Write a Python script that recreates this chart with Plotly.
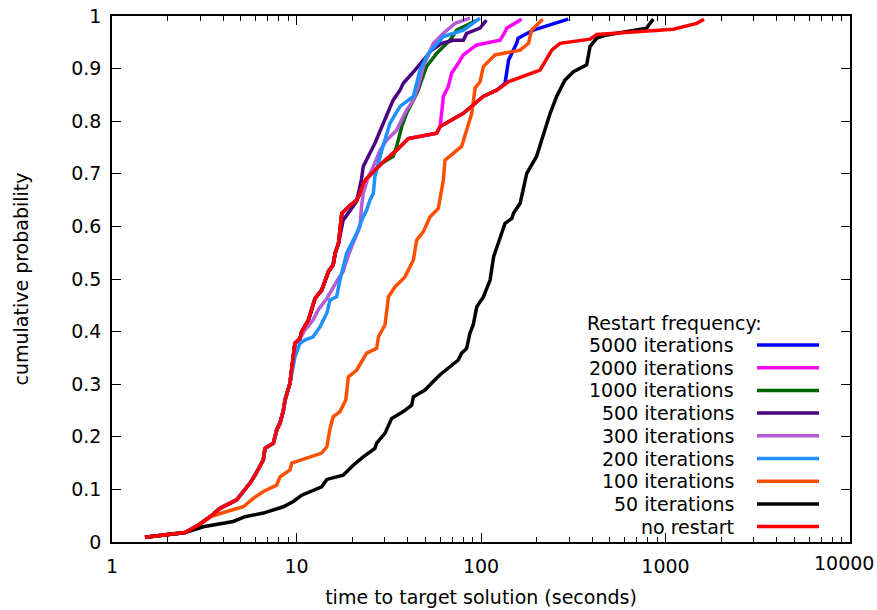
import plotly.graph_objects as go

# ---- data ----
# no restart
red_t = [1.51, 2.49, 2.93, 3.40, 3.85, 4.19, 4.74, 5.15, 5.60, 5.96, 6.34, 6.61, 6.75, 7.49, 7.81, 8.14,
         8.49, 8.67, 9.22, 9.81, 10.45, 10.67, 11.6, 12.6, 13.7, 14.3, 14.9, 15.8, 16.2, 16.9, 17.6, 19.1,
         21.2, 22.1, 23.0, 24.0, 29.0, 34.9, 40.4, 57.5, 60.0, 80.2, 102.8, 121.6, 140.6, 209, 222, 242,
         268, 390, 424, 1102, 1476, 1617]
red_p = [0.009, 0.018, 0.032, 0.048, 0.064, 0.070, 0.080, 0.096, 0.112, 0.127, 0.143, 0.156, 0.178, 0.188,
         0.213, 0.226, 0.250, 0.270, 0.302, 0.378, 0.387, 0.400, 0.422, 0.463, 0.479, 0.498, 0.514, 0.527,
         0.549, 0.568, 0.625, 0.637, 0.650, 0.663, 0.682, 0.691, 0.720, 0.745, 0.767, 0.777, 0.790, 0.815,
         0.847, 0.859, 0.875, 0.897, 0.913, 0.935, 0.948, 0.956, 0.965, 0.975, 0.986, 0.994]

# restart curves share the no-restart path up to the point where they separate
t_5000 = red_t[:44] + [135, 141, 156, 159, 177, 192, 297]
p_5000 = red_p[:44] + [0.872, 0.916, 0.948, 0.958, 0.967, 0.973, 0.994]

t_2000 = red_t[:40] + [60.0, 61.2, 62.5, 66.5, 69.3, 75.3, 80.2, 94.8, 127, 135, 138, 166]
p_2000 = red_p[:40] + [0.790, 0.815, 0.847, 0.866, 0.891, 0.910, 0.926, 0.945, 0.954, 0.970, 0.977, 0.994]

t_1000 = red_t[:37] + [33.4, 34.9, 37.2, 39.5, 43.0, 45.7, 47.0, 50.7, 57.5, 67.9, 73.8, 87.1, 94.8]
p_1000 = red_p[:37] + [0.733, 0.752, 0.790, 0.815, 0.840, 0.859, 0.872, 0.904, 0.929, 0.954, 0.973, 0.986, 0.992]

t_500 = red_t[:30] + [17.9, 19.9, 21.2, 22.5, 23.0, 26.6, 27.8, 31.5, 33.4, 36.4, 37.9, 43.9, 54.0, 61.2,
                      70.8, 80.2, 83.6, 98.8, 107]
p_500 = red_p[:30] + [0.612, 0.634, 0.648, 0.690, 0.714, 0.758, 0.774, 0.821, 0.840, 0.859, 0.872, 0.897,
                      0.935, 0.948, 0.954, 0.954, 0.967, 0.977, 0.992]

t_300 = red_t[:21] + [11.1, 12.3, 13.1, 14.6, 15.5, 16.9, 17.9, 18.7, 19.9, 21.2, 22.1, 22.5, 23.0, 24.5,
                      25.6, 28.4, 30.8, 34.9, 39.5, 43.0, 45.7, 48.7, 55.2, 62.5, 72.3, 87.1]
p_300 = red_p[:21] + [0.403, 0.422, 0.441, 0.463, 0.479, 0.501, 0.514, 0.536, 0.561, 0.587, 0.600, 0.637,
                      0.663, 0.695, 0.707, 0.745, 0.764, 0.783, 0.821, 0.840, 0.866, 0.904, 0.948, 0.967,
                      0.986, 0.996]

t_200 = red_t[:19] + [9.5, 9.81, 10.45, 11.1, 12.3, 13.4, 14.6, 15.2, 16.5, 17.2, 18.7, 21.2, 23.0, 24.0,
                      25.0, 26.1, 26.6, 29.0, 32.1, 36.4, 43.0, 46.7, 51.9, 62.5, 80.2, 98.8]
p_200 = red_p[:19] + [0.330, 0.352, 0.378, 0.384, 0.390, 0.409, 0.435, 0.460, 0.466, 0.498, 0.549, 0.587,
                      0.618, 0.631, 0.650, 0.663, 0.695, 0.745, 0.796, 0.828, 0.847, 0.897, 0.929, 0.961,
                      0.973, 0.996]

t_100 = red_t[:4] + [4.19, 5.15, 5.83, 6.61, 7.81, 8.14, 9.22, 9.42, 13.7, 14.6, 15.2, 15.8, 17.2, 18.5,
                     19.1, 21.2, 24.0, 27.2, 27.8, 30.2, 31.5, 34.2, 38.7, 43.0, 44.8, 48.7, 52.9, 58.7,
                     62.5, 63.8, 78.5, 83.6, 89.1, 92.9, 98.8, 103, 119, 163, 181, 188, 216]
p_100 = red_p[:4] + [0.058, 0.067, 0.083, 0.096, 0.108, 0.124, 0.137, 0.150, 0.169, 0.181, 0.216, 0.238,
                     0.248, 0.270, 0.314, 0.327, 0.359, 0.368, 0.390, 0.413, 0.466, 0.485, 0.504, 0.536,
                     0.574, 0.590, 0.618, 0.634, 0.688, 0.726, 0.752, 0.783, 0.815, 0.863, 0.875, 0.904,
                     0.926, 0.935, 0.948, 0.973, 0.994]

t_50 = red_t[:2] + [3.12, 4.54, 5.26, 6.61, 8.49, 9.61, 10.67, 13.7, 14.6, 17.9, 20.3, 23.0, 26.6, 27.2,
                    30.2, 32.8, 37.9, 42.1, 43.0, 49.7, 55.1, 60.0, 75.3, 78.5, 83.6, 87.1, 90.8, 94.8,
                    103, 112, 117, 127, 135, 147, 150, 163, 177, 200, 218, 237, 257, 285, 317, 374, 390,
                    424, 480, 791, 824, 859]
p_50 = red_p[:2] + [0.029, 0.039, 0.048, 0.055, 0.067, 0.077, 0.089, 0.105, 0.119, 0.127, 0.146, 0.162,
                    0.178, 0.188, 0.207, 0.235, 0.248, 0.260, 0.276, 0.289, 0.305, 0.318, 0.346, 0.359,
                    0.368, 0.397, 0.413, 0.447, 0.466, 0.498, 0.542, 0.577, 0.606, 0.615, 0.625, 0.644,
                    0.701, 0.733, 0.777, 0.815, 0.847, 0.878, 0.894, 0.907, 0.942, 0.958, 0.964, 0.977,
                    0.986, 0.994]

series_names = ["5000 iterations", "2000 iterations", "1000 iterations", "500 iterations",
                "300 iterations", "200 iterations", "100 iterations", "50 iterations", "no restart"]
series_t = [t_5000, t_2000, t_1000, t_500, t_300, t_200, t_100, t_50, red_t]
series_p = [p_5000, p_2000, p_1000, p_500, p_300, p_200, p_100, p_50, red_p]
colors = ["#0000ff", "#ff00ff", "#006400", "#4b0082", "#b45cd6", "#1e90ff", "#ff4f00", "#000000", "#ff0000"]

x_tickvals = [1, 10, 100, 1000, 10000]
x_ticktext = ["1", "10", "100", "1000", "10000"]
y_tickvals = [0, 0.1, 0.2, 0.3, 0.4, 0.5, 0.6, 0.7, 0.8, 0.9, 1]
y_ticktext = ["0", "0.1", "0.2", "0.3", "0.4", "0.5", "0.6", "0.7", "0.8", "0.9", "1"]
x_minor = [m * d for d in [1, 10, 100, 1000] for m in range(2, 10)]

legend_title = "Restart frequency:"

# ---- figure ----
W, H = 877, 610
L, R, T, B = 112, 27, 16, 68
FONT = "DejaVu Sans, Verdana, sans-serif"
FS = 19

fig = go.Figure()
for name, t, p, c in zip(series_names, series_t, series_p, colors):
    fig.add_trace(go.Scatter(x=t, y=p, mode="lines", name=name,
                             line=dict(color=c, width=3.5), showlegend=False))

pw = W - L - R
ph = H - T - B


def px2paper_x(px):
    return (px - L) / pw


def px2paper_y(py):
    return (H - B - py) / ph


annotations = [dict(text=legend_title, x=px2paper_x(585), y=px2paper_y(323), xref="paper", yref="paper",
                    xanchor="left", yanchor="middle", showarrow=False,
                    font=dict(family=FONT, size=FS, color="black"))]
shapes = []
for i, (name, c) in enumerate(zip(series_names, colors)):
    yy = px2paper_y(345 + i * 22.7)
    annotations.append(dict(text=name, x=px2paper_x(736), y=yy, xref="paper", yref="paper",
                            xanchor="right", yanchor="middle", showarrow=False,
                            font=dict(family=FONT, size=FS, color="black")))
    shapes.append(dict(type="line", xref="paper", yref="paper", x0=px2paper_x(757), x1=px2paper_x(819),
                       y0=yy, y1=yy, line=dict(color=c, width=3.5)))

# the last x tick label sits at the window edge; draw it right-anchored so it stays inside the page
last_label = x_ticktext[-1]
shown_ticktext = x_ticktext[:-1] + [""]
annotations.append(dict(text=last_label, x=px2paper_x(876), y=px2paper_y(563), xref="paper", yref="paper",
                        xanchor="right", yanchor="middle", showarrow=False,
                        font=dict(family=FONT, size=FS, color="black")))

fig.update_layout(
    width=W, height=H,
    margin=dict(l=L, r=R, t=T, b=B, autoexpand=False),
    paper_bgcolor="white", plot_bgcolor="white",
    font=dict(family=FONT, size=FS, color="black"),
    annotations=annotations, shapes=shapes,
    xaxis=dict(type="log", range=[0, 4], tickvals=x_tickvals, ticktext=shown_ticktext,
               ticks="inside", ticklen=9, tickwidth=1, tickcolor="black",
               minor=dict(tickvals=x_minor, ticks="inside", ticklen=5, tickwidth=1, tickcolor="black"),
               showline=True, linecolor="black", linewidth=1.5, mirror="allticks",
               showgrid=False, zeroline=False, automargin=False,
               title=dict(text="time to target solution (seconds)", standoff=15,
                          font=dict(family=FONT, size=FS)),
               tickfont=dict(family=FONT, size=FS), ticklabelstandoff=6),
    yaxis=dict(range=[0, 1], tickvals=y_tickvals, ticktext=y_ticktext,
               ticks="inside", ticklen=9, tickwidth=1, tickcolor="black",
               showline=True, linecolor="black", linewidth=1.5, mirror="allticks",
               showgrid=False, zeroline=False, automargin=False,
               title=dict(text="cumulative probability", standoff=38,
                          font=dict(family=FONT, size=FS)),
               tickfont=dict(family=FONT, size=FS), ticklabelstandoff=5),
)

fig.write_html("out.html")
